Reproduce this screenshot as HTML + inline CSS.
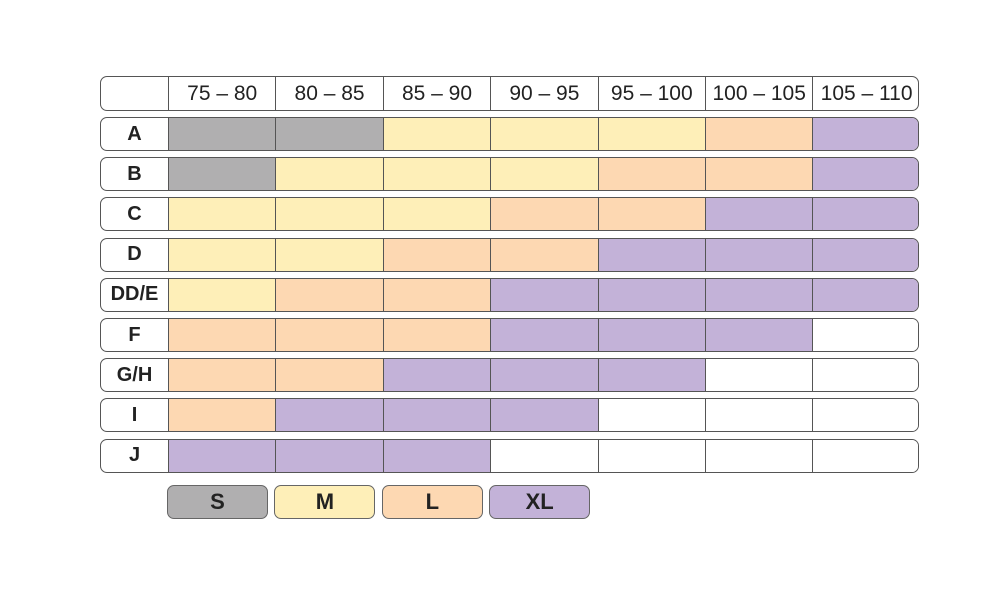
<!DOCTYPE html>
<html><head><meta charset="utf-8"><style>
body{margin:0;width:1000px;height:610px;background:#fff;font-family:"Liberation Sans",sans-serif;position:relative;overflow:hidden}
.row{position:absolute;left:100px;width:819px;border:1.5px solid #555;border-radius:7px;box-sizing:border-box;overflow:hidden;background:#fff}
.cell{position:absolute;top:0;bottom:0;box-sizing:border-box;border-left:1.5px solid #555;display:flex;align-items:center;justify-content:center;color:#222}
.lab{position:absolute;left:0;top:0;bottom:0;width:67px;display:flex;align-items:center;justify-content:center;font-weight:bold;font-size:20px;color:#222}
.leg{position:absolute;top:485px;height:34px;width:101px;border:1.5px solid #666;border-radius:7px;box-sizing:border-box;display:flex;align-items:center;justify-content:center;font-weight:bold;font-size:22px;color:#222}
</style></head><body>
<div id="chart"></div>
<script>
const bands=["75 – 80","80 – 85","85 – 90","90 – 95","95 – 100","100 – 105","105 – 110"];
const cups=["A","B","C","D","DD/E","F","G/H","I","J"];
const sizesA=["S","S","M","M","M","L","XL"];
const sizesB=["S","M","M","M","L","L","XL"];
const sizesC=["M","M","M","L","L","XL","XL"];
const sizesD=["M","M","L","L","XL","XL","XL"];
const sizesDDE=["M","L","L","XL","XL","XL","XL"];
const sizesF=["L","L","L","XL","XL","XL",""];
const sizesGH=["L","L","XL","XL","XL","",""];
const sizesI=["L","XL","XL","XL","","",""];
const sizesJ=["XL","XL","XL","","","",""];
const grid=[sizesA,sizesB,sizesC,sizesD,sizesDDE,sizesF,sizesGH,sizesI,sizesJ];
const legend=["S","M","L","XL"];
const colors={S:"#b0afb0",M:"#feefb8",L:"#fdd8b2",XL:"#c3b2d8","":"#fff"};
const x0=167,cw=107.4,rowTop=117,rowStep=40.2,rowH=34;
const root=document.getElementById('chart');
function colX(i){return x0+i*cw-100;}
// header
const h=document.createElement('div');h.className='row';


h.style.top='76px';h.style.height='35px';
bands.forEach((b,i)=>{const c=document.createElement('div');c.className='cell';


c.style.left=colX(i)+'px';c.style.width=cw+'px';c.style.fontSize='21px';c.textContent=b;h.appendChild(c);});
root.appendChild(h);
cups.forEach((cup,r)=>{const row=document.createElement('div');row.className='row';


row.style.top=(rowTop+r*rowStep)+'px';row.style.height=rowH+'px';
const l=document.createElement('div');l.className='lab';


l.textContent=cup;row.appendChild(l);
grid[r].forEach((s,i)=>{const c=document.createElement('div');c.className='cell';


c.style.left=colX(i)+'px';c.style.width=(cw+1)+'px';c.style.background=colors[s];row.appendChild(c);});
root.appendChild(row);});
legend.forEach((s,i)=>{const d=document.createElement('div');d.className='leg';


d.style.left=(167+i*107.4)+'px';d.style.background=colors[s];d.textContent=s;root.appendChild(d);});
</script>
</body></html>
